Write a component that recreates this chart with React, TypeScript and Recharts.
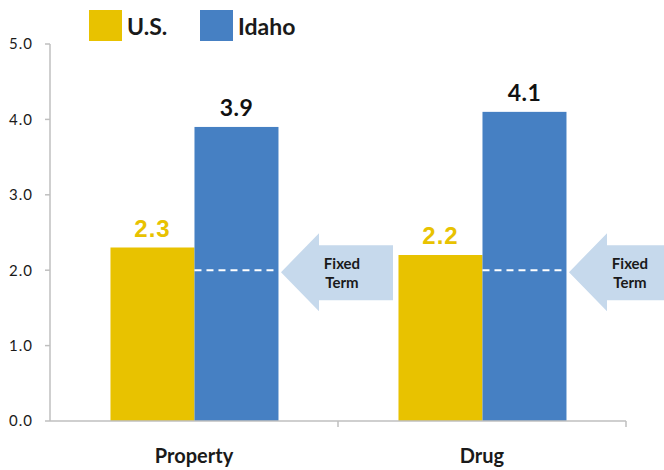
import React from 'react';
import { BarChart, Bar, XAxis, YAxis, LabelList, ReferenceDot } from 'recharts';

const categories = ['Property', 'Drug'];
const usValues = [2.3, 2.2];
const idahoValues = [3.9, 4.1];
const yTicks = [0, 1, 2, 3, 4, 5];
const fixedTerm = 2.0;
const fixedTermLines = ['Fixed', 'Term'];

const data = categories.map((name, i) => ({ name, us: usValues[i], idaho: idahoValues[i] }));

const YELLOW = '#E8C200';
const BLUE = '#4680C3';
const ARROW = '#C6D9EC';
const AXIS = '#BFBFBF';
const INK = '#1a1a1a';
const FONT = 'Lato, "Open Sans", sans-serif';

const W = 664;
const H = 470;
const MARGIN = { top: 44, right: 38, bottom: 0, left: 0 };
const Y_W = 50;
const X_H = 49;
const HALF_BAND = (W - MARGIN.left - MARGIN.right - Y_W) / categories.length / 2;

// Idaho bar with the dashed "fixed term" line drawn across it
function IdahoBar(props: any) {
  const { x, y, width, height } = props;
  const v = props.payload?.idaho ?? props.value;
  const ly = y + height - (height * fixedTerm) / v;
  return (
    <g>
      <rect x={x} y={y} width={width} height={height} fill={BLUE} />
      <line x1={x} x2={x + width} y1={ly} y2={ly} stroke="#fff" strokeWidth={2} strokeDasharray="7 5" />
    </g>
  );
}

function FixedTermArrow(props: any) {
  const { cx, cy } = props;
  const c = cy + 2;
  const pts = [
    [cx + 87, c],
    [cx + 125, c - 39],
    [cx + 125, c - 27],
    [cx + 199, c - 27],
    [cx + 199, c + 28],
    [cx + 125, c + 28],
    [cx + 125, c + 39],
  ]
    .map((p) => p.join(','))
    .join(' ');
  return (
    <g>
      <polygon points={pts} fill={ARROW} />
      {fixedTermLines.map((t, i) => (
        <text
          key={t}
          x={cx + 148}
          y={c - 3 + i * 18.5}
          textAnchor="middle"
          fontFamily={FONT}
          fontWeight={700}
          fontSize={15}
          fill={INK}
        >
          {t}
        </text>
      ))}
    </g>
  );
}

function CategoryTick(props: any) {
  const { x, y, payload } = props;
  return (
    <g>
      <line x1={x + HALF_BAND} x2={x + HALF_BAND} y1={y - 6} y2={y} stroke={AXIS} strokeWidth={1.5} />
      <text x={x} y={y + 36} textAnchor="middle" fontFamily={FONT} fontWeight={700} fontSize={20} fill={INK}>
        {payload.value}
      </text>
    </g>
  );
}

function LegendBox({ left, color, label }: { left: number; color: string; label: string }) {
  return (
    <div style={{ position: 'absolute', left, top: 10, display: 'flex', alignItems: 'center' }}>
      <div style={{ width: 33, height: 31, background: color }} />
      <span style={{ marginLeft: 5, fontFamily: FONT, fontWeight: 700, fontSize: 23, color: INK }}>{label}</span>
    </div>
  );
}

export default function App() {
  return (
    <div style={{ position: 'absolute', left: 0, top: 0, width: W, height: H, background: '#fff' }}>
      <BarChart width={W} height={H} data={data} margin={MARGIN} barCategoryGap="21%" barGap={0}>
        <YAxis
          width={Y_W}
          domain={[0, 5]}
          ticks={yTicks}
          interval={0}
          tickFormatter={(v: number) => v.toFixed(1)}
          axisLine={{ stroke: AXIS, strokeWidth: 1.5 }}
          tickLine={{ stroke: AXIS, strokeWidth: 1.5 }}
          tickSize={5}
          tickMargin={12}
          tick={{ fill: INK, fontSize: 15, fontFamily: FONT, letterSpacing: 1 }}
        />
        <XAxis
          dataKey="name"
          height={X_H}
          interval={0}
          axisLine={{ stroke: AXIS, strokeWidth: 1.5 }}
          tickLine={false}
          tickSize={6}
          tickMargin={0}
          tick={<CategoryTick />}
        />
        <Bar dataKey="us" fill={YELLOW} isAnimationActive={false}>
          <LabelList
            dataKey="us"
            position="top"
            offset={11}
            formatter={(v: any) => Number(v).toFixed(1)}
            style={{
              fill: YELLOW,
              fontSize: 24,
              fontWeight: 700,
              letterSpacing: 1,
              fontFamily: '"Liberation Sans", Arial, sans-serif',
            }}
          />
        </Bar>
        <Bar dataKey="idaho" fill={BLUE} shape={<IdahoBar />} isAnimationActive={false}>
          <LabelList
            dataKey="idaho"
            position="top"
            offset={11}
            formatter={(v: any) => Number(v).toFixed(1)}
            style={{ fill: '#111', fontSize: 23, fontWeight: 700, fontFamily: FONT, letterSpacing: 0.5 }}
          />
        </Bar>
        {categories.map((c) => (
          <ReferenceDot key={c} x={c} y={fixedTerm} r={0} shape={<FixedTermArrow />} />
        ))}
      </BarChart>
      <LegendBox left={89} color={YELLOW} label="U.S." />
      <LegendBox left={200} color={BLUE} label="Idaho" />
    </div>
  );
}
